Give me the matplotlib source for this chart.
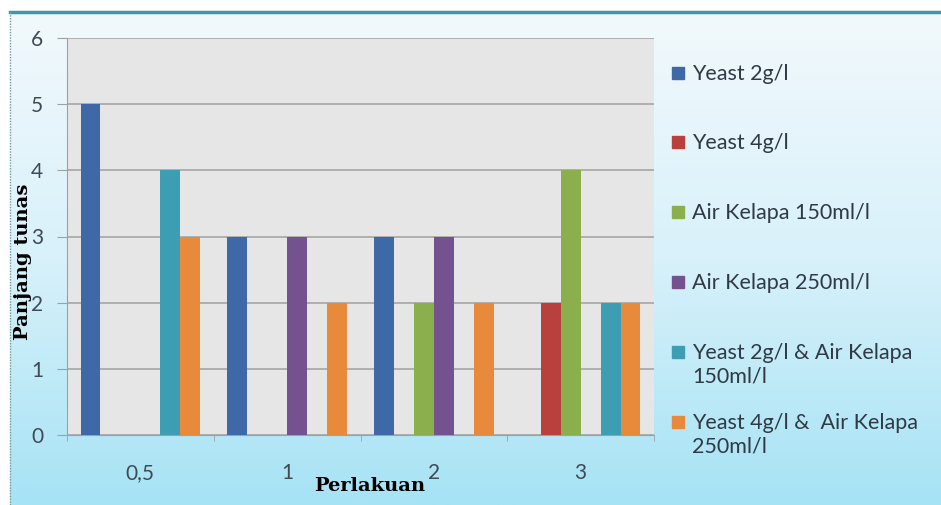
import numpy as np
import matplotlib
matplotlib.use("Agg")
import matplotlib.pyplot as plt
from matplotlib.patches import Rectangle
from matplotlib.lines import Line2D
from matplotlib.colors import LinearSegmentedColormap

categories = ["0,5", "1", "2", "3"]
series = ["Yeast 2g/l", "Yeast 4g/l", "Air Kelapa 150ml/l", "Air Kelapa 250ml/l",
          "Yeast 2g/l & Air Kelapa\n150ml/l", "Yeast 4g/l &  Air Kelapa\n250ml/l"]
yeast_2 = [5, 3, 3, 0]
yeast_4 = [0, 0, 0, 2]
kelapa_150 = [0, 0, 2, 4]
kelapa_250 = [0, 3, 3, 0]
yeast2_kelapa150 = [4, 0, 0, 2]
yeast4_kelapa250 = [3, 2, 2, 2]
values = [yeast_2, yeast_4, kelapa_150, kelapa_250, yeast2_kelapa150, yeast4_kelapa250]
colors = ["#3f68a6", "#b8413e", "#8caf4e", "#74528f", "#3c9db3", "#e88a3c"]

plt.rcParams['font.family'] = ['Lato', 'DejaVu Sans']

W, H = 941, 505
fig = plt.figure(figsize=(W / 100, H / 100), dpi=100)
fig.patch.set_facecolor("white")

# gradient background panel
bg = fig.add_axes([10 / W, 0, 1 - 10 / W, 1 - 12 / H], zorder=-10)
grad = np.linspace(0, 1, 256).reshape(-1, 1)
cmap = LinearSegmentedColormap.from_list("bgc", ["#f2f9fc", "#d8f1fa", "#a6e3f5"])
bg.imshow(grad, aspect="auto", cmap=cmap, extent=[0, 1, 0, 1], origin="upper")
bg.set_xlim(0, 1)
bg.set_ylim(0, 1)
bg.axis("off")
fig.add_artist(Line2D([10 / W, 1], [1 - 12 / H, 1 - 12 / H], color="#3a9aa8", lw=2.5))
fig.add_artist(Line2D([10 / W, 10 / W], [0, 1 - 12 / H], color="#7a9aa0", lw=1, ls=(0, (1, 1))))

ax = fig.add_axes([67 / W, 1 - 435 / H, (654 - 67) / W, (435 - 38) / H])
ax.set_facecolor("#e6e6e6")

x = np.arange(len(categories))
width = 0.136
for i, (vals, c) in enumerate(zip(values, colors)):
    ax.bar(x + (i - 2.5) * width, vals, width, color=c, zorder=3)

ax.set_xlim(-0.5, 3.5)
ax.set_ylim(0, 6)
ax.set_yticks(range(7))
ax.yaxis.grid(True, color="#a6a6a6", lw=1.2, zorder=0)
ax.set_xticks(x)
ax.set_xticklabels(categories)
ax.set_xticks(np.arange(-0.5, 4, 1), minor=True)
ax.tick_params(axis="x", which="major", length=0, pad=20, labelsize=15, labelcolor="#404a55")
ax.tick_params(axis="x", which="minor", length=4, color="#a0a0a0")
ax.tick_params(axis="y", length=7, color="#a0a0a0", pad=10, labelsize=15, labelcolor="#404a55")
for s in ["top", "right"]:
    ax.spines[s].set_visible(False)
for s in ["left", "bottom"]:
    ax.spines[s].set_color("#a0a0a0")

fig.text(23 / W, 1 - 262 / H, "Panjang tunas", rotation=90, ha="center", va="center",
         fontsize=14, fontweight="bold", family="DejaVu Serif")
fig.text(370 / W, 1 - 486 / H, "Perlakuan", ha="center", va="center",
         fontsize=14, fontweight="bold", family="DejaVu Serif")

# legend, laid out by hand like the original
legend_rows = [73, 142, 212, 282, 352, 422]
for lab, c, yrow in zip(series, colors, legend_rows):
    fig.add_artist(Rectangle((672 / W, 1 - (yrow + 6) / H), 12 / W, 12 / H,
                             transform=fig.transFigure, color=c))
    fig.text(692 / W, 1 - (yrow - 9) / H, lab, ha="left", va="top", fontsize=15.5,
             color="#2f3a44", linespacing=1.2)

fig.savefig("out.png", dpi=100)
